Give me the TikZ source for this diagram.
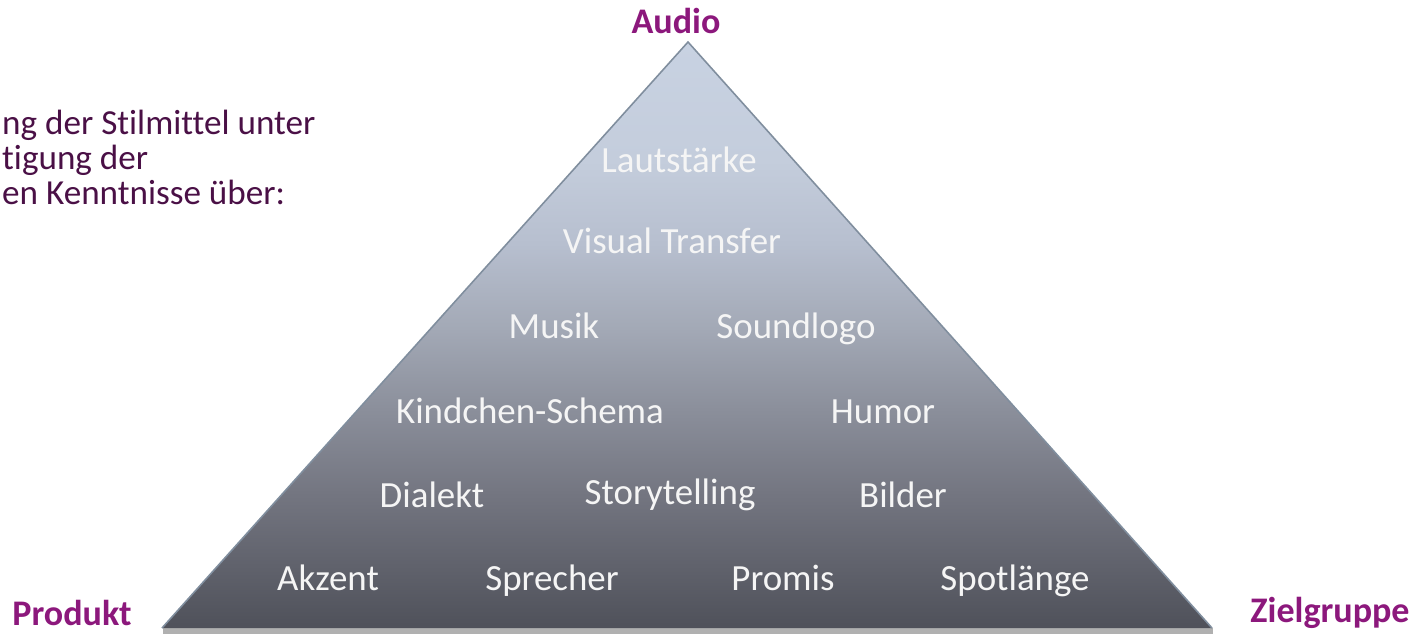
\documentclass[tikz,border=0pt]{standalone}
\usepackage{fontspec}
\setmainfont{Carlito}[Ligatures={NoCommon}]
\definecolor{audiopurple}{RGB}{140,24,124}
\definecolor{notepurple}{RGB}{74,16,70}
\definecolor{edgeblue}{RGB}{128,142,158}
\definecolor{pyrA}{RGB}{79,81,90}
\definecolor{pyrB}{RGB}{115,117,128}
\definecolor{pyrC}{RGB}{138,142,154}
\definecolor{pyrD}{RGB}{163,169,182}
\definecolor{pyrE}{RGB}{183,191,207}
\definecolor{pyrF}{RGB}{196,205,220}
\definecolor{pyrG}{RGB}{200,210,226}
\pgfdeclareverticalshading{pyramid}{100bp}{color(0bp)=(pyrA); color(25bp)=(pyrA); color(36.3bp)=(pyrB); color(43.4bp)=(pyrC); color(50.6bp)=(pyrD); color(57.8bp)=(pyrE); color(64.9bp)=(pyrF); color(75bp)=(pyrG); color(100bp)=(pyrG)}
\tikzset{
	lbl/.style={anchor=base, text=white!96!black, font=\fontsize{21}{20}\selectfont},
	corner/.style={anchor=base, text=audiopurple, font=\fontsize{20.5}{20}\selectfont\bfseries},
	note/.style={anchor=base west, text=notepurple, font=\fontsize{20}{20}\selectfont}
}

\begin{document}
\begin{tikzpicture}[x=0.02cm, y=-0.02cm]
			%%%%% START %%%%%
			\useasboundingbox (0, 0) rectangle (1420, 633);
			
			\coordinate (apex) at (688, 42);
			\coordinate (bl) at (162, 628);
			\coordinate (br) at (1212, 628);
			
			% pyramid body with its shadow strip
			\fill[gray!62] (163, 628) rectangle (1213, 634);
			\shade[shading=pyramid] (bl) -- (apex) -- (br) -- cycle;
			\draw[edgeblue, line width=0.9pt, line join=miter] (bl) -- (apex) -- (br);
			
			% corners
			\node[corner] (audio) at (676, 33) {Audio};
			\node[corner] (produkt) at (72, 625) {Produkt};
			\node[corner] (zielgruppe) at (1330, 622) {Zielgruppe};
			
			% note on the left
			\node[note] (note1) at (-4, 134) {ng der Stilmittel unter};
			\node[note] (note2) at (-4, 169) {tigung der};
			\node[note] (note3) at (-4, 204) {en Kenntnisse über:};
			
			% rows of the pyramid
			\node[lbl] (laut) at (679, 172) {Lautstärke};
			\node[lbl] (visual) at (672, 253) {Visual Transfer};
			
			\node[lbl] (musik) at (554, 338) {Musik};
			\node[lbl] (sound) at (796, 338) {Soundlogo};
			
			\node[lbl] (kind) at (530, 423) {Kindchen-Schema};
			\node[lbl] (humor) at (883, 423) {Humor};
			
			\node[lbl] (dialekt) at (432, 507) {Dialekt};
			\node[lbl] (story) at (670, 504) {Storytelling};
			\node[lbl] (bilder) at (903, 507) {Bilder};
			
			\node[lbl] (akzent) at (328, 590) {Akzent};
			\node[lbl] (sprecher) at (552, 590) {Sprecher};
			\node[lbl] (promis) at (783, 590) {Promis};
			\node[lbl] (spot) at (1015, 590) {Spotlänge};
			%%%%% END %%%%%
\end{tikzpicture}
\end{document}
